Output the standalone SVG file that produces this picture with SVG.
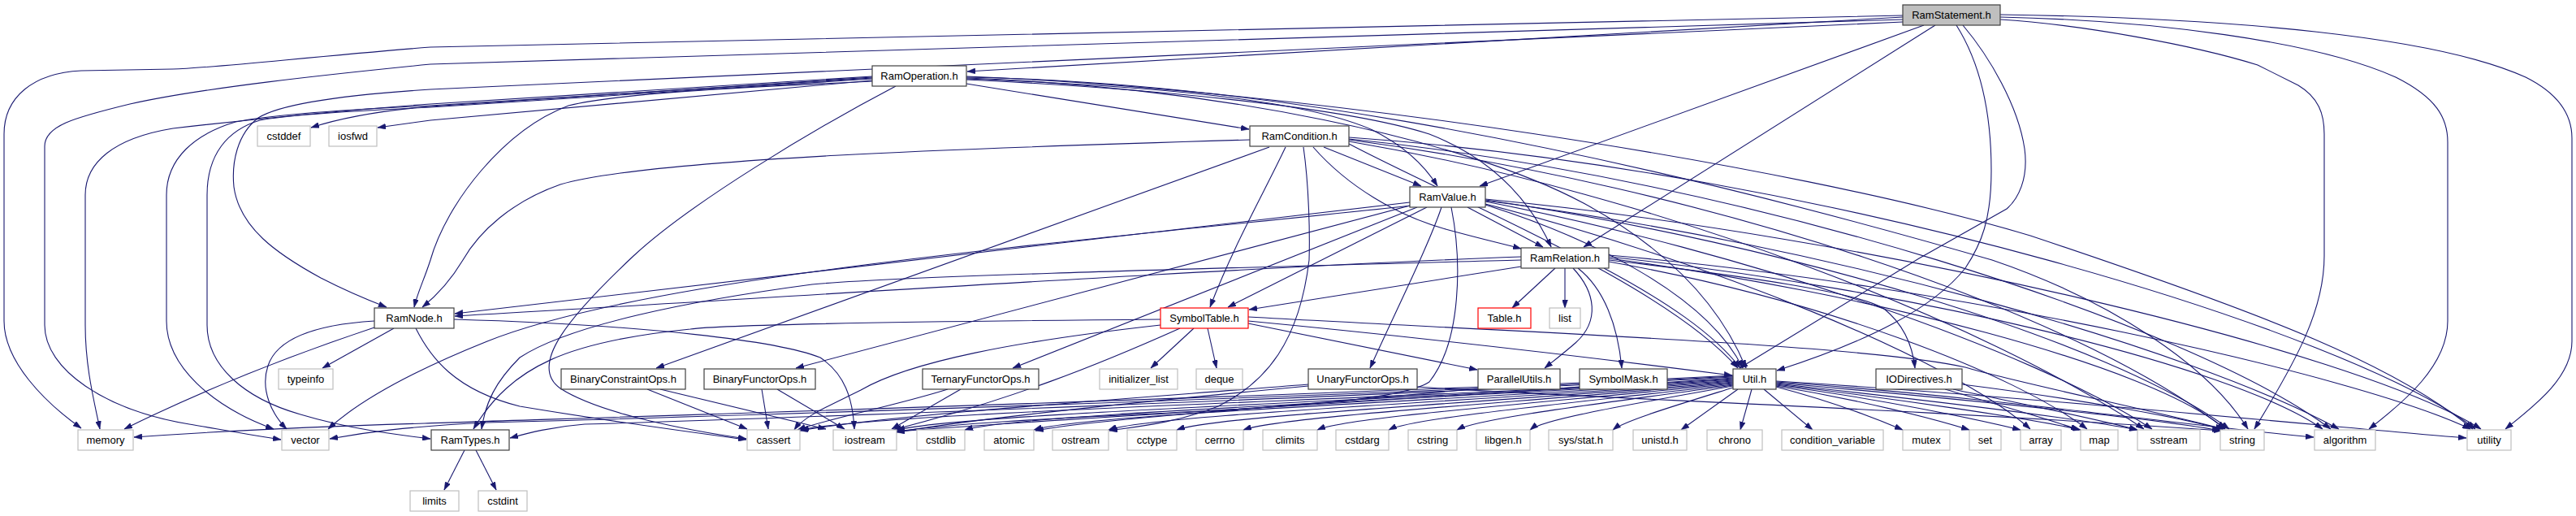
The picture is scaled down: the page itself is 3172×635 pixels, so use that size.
<svg xmlns="http://www.w3.org/2000/svg" width="3172" height="635" viewBox="0 0 3172 635">
<style>
.e{fill:none;stroke:#191970;stroke-width:1.1}
.n rect{fill:#fff;stroke:#404040;stroke-width:1.2}
.x rect{fill:#fff;stroke:#bfbfbf;stroke-width:1.2}
.r rect{fill:#fff;stroke:#ff0000;stroke-width:1.2}
.root rect{fill:#bfbfbf;stroke:#404040;stroke-width:1.2}
text{font-family:"Liberation Sans",Arial,Helvetica,sans-serif;font-size:13px;text-anchor:middle;fill:#000}
</style>
<defs>
<marker id="a" viewBox="0 0 10 7" refX="10" refY="3.5" markerWidth="10" markerHeight="7" markerUnits="userSpaceOnUse" orient="auto">
<path d="M0,0 L10,3.5 L0,7 z" fill="#191970" stroke="#191970" stroke-width="0.5"/>
</marker>
</defs>
<rect width="3172" height="635" fill="#fff"/>
<g id="edges" marker-end="url(#a)">
<!-- RamStatement -->
<path class="e" d="M2343,21 L1191,88"/>
<path class="e" d="M2343,19 L530,58 C380,70 260,84 213,85 L100,87 C40,90 5,120 5,165 L5,395 C5,445 55,495 100,527"/>
<path class="e" d="M2343,24 L530,79 C400,92 250,108 160,128 C90,145 55,155 55,180 L55,400 C55,455 130,505 233,522 C280,530 320,537 346,541"/>
<path class="e" d="M2343,27 L530,110 C420,117 345,128 318,145 C292,165 285,200 288,230 C295,280 340,312 395,342 C430,360 455,370 476,378"/>
<path class="e" d="M2369,31 L1822,229"/>
<path class="e" d="M2383,31 L1950,304"/>
<path class="e" d="M2409,31 C2440,80 2452,140 2452,210 C2452,270 2440,300 2420,330 C2380,380 2300,420 2188,456"/>
<path class="e" d="M2417,31 C2450,70 2485,130 2493,183 C2498,220 2485,245 2471,257 L2363,318 L2142,453"/>
<path class="e" d="M2463,24 C2560,30 2700,55 2780,80 L2830,105 C2855,120 2862,140 2862,165 L2862,315 C2862,380 2830,440 2776,528"/>
<path class="e" d="M2463,21 C2650,25 2850,50 2950,95 C3000,120 3014,145 3014,175 L3014,395 C3014,450 2960,495 2917,528"/>
<path class="e" d="M2463,18 C2750,22 3000,45 3110,95 C3150,115 3167,140 3167,170 L3167,420 C3167,465 3120,500 3085,528"/>
<!-- RamOperation -->
<path class="e" d="M1190,103 L1538,159"/>
<path class="e" d="M1074,95 L530,131 C470,136 420,145 383,157"/>
<path class="e" d="M1074,99 L530,148 L465,157"/>
<path class="e" d="M1074,94 L530,128 C420,136 300,148 213,158 C140,170 105,200 105,240 L105,400 C105,450 115,490 123,528"/>
<path class="e" d="M1074,96 L530,130 C420,135 330,142 290,150 C240,165 205,195 205,240 L205,395 C205,450 260,500 337,528"/>
<path class="e" d="M1074,97 L530,132 C420,137 350,142 320,148 C280,160 255,190 255,240 L255,400 C255,450 300,490 370,510 C430,528 490,535 530,540"/>
<path class="e" d="M1074,100 C900,108 760,115 700,130 C620,160 550,250 530,320 C522,345 514,360 510,378"/>
<path class="e" d="M1103,106 C1000,160 850,250 780,315 C700,390 650,450 690,478 C740,510 850,530 919,540"/>
<path class="e" d="M1190,97 C1400,105 1600,120 1690,160 C1730,180 1755,205 1770,229"/>
<path class="e" d="M1190,98 C1400,108 1650,130 1760,165 C1850,200 1890,260 1910,304"/>
<path class="e" d="M1190,96 C1500,108 1800,170 1950,250 C2060,310 2120,380 2150,453"/>
<path class="e" d="M1190,95 C1500,100 1900,160 2453,320 C2600,370 2720,450 2768,528"/>
<path class="e" d="M1190,94 C1600,110 2200,200 2500,290 C2800,390 2950,450 3045,528"/>
<!-- RamCondition -->
<path class="e" d="M1539,172 C1200,182 800,195 690,227 C630,248 590,285 570,320 C555,345 540,362 520,378"/>
<path class="e" d="M1563,181 L808,453"/>
<path class="e" d="M1583,181 C1555,240 1520,300 1490,378"/>
<path class="e" d="M1630,181 L1750,229"/>
<path class="e" d="M1617,181 C1660,230 1720,265 1780,282 C1820,293 1850,300 1873,306"/>
<path class="e" d="M1605,181 C1612,230 1613,290 1612,320 C1600,420 1560,470 1500,500 C1450,520 1400,525 1366,530"/>
<path class="e" d="M1661,177 C1800,250 2050,350 2140,453"/>
<path class="e" d="M1661,172 C2100,230 2550,380 2740,528"/>
<path class="e" d="M1661,174 C2050,240 2450,400 2640,528"/>
<path class="e" d="M1661,171 C2150,220 2700,400 2870,528"/>
<path class="e" d="M1661,169 C2250,210 2900,410 3048,528"/>
<!-- RamValue -->
<path class="e" d="M1736,249 L560,386"/>
<path class="e" d="M1738,253 C1300,300 800,340 600,420 C500,460 440,495 404,528"/>
<path class="e" d="M1740,252 L980,453"/>
<path class="e" d="M1745,255 L1247,453"/>
<path class="e" d="M1775,255 C1760,300 1720,380 1687,453"/>
<path class="e" d="M1757,255 L1512,378"/>
<path class="e" d="M1807,255 L1900,304"/>
<path class="e" d="M1787,255 C1800,320 1800,420 1760,470 C1700,510 1300,505 1104,531"/>
<path class="e" d="M1829,252 C1950,290 2100,360 2146,453"/>
<path class="e" d="M1829,246 C2200,300 2600,420 2745,528"/>
<path class="e" d="M1829,248 C2150,310 2500,430 2650,528"/>
<path class="e" d="M1829,251 C2100,320 2400,440 2500,528"/>
<path class="e" d="M1829,247 C2250,300 2700,430 2880,528"/>
<path class="e" d="M1829,245 C2300,290 2900,430 3055,528"/>
<!-- RamRelation -->
<path class="e" d="M1915,330 L1862,379"/>
<path class="e" d="M1927,330 L1927,379"/>
<path class="e" d="M1937,330 C1965,360 1970,395 1940,422 C1925,435 1912,445 1902,453"/>
<path class="e" d="M1943,330 C1975,355 1992,400 1997,453"/>
<path class="e" d="M1981,320 C2150,340 2290,360 2320,380 C2345,400 2355,425 2358,453"/>
<path class="e" d="M1873,316 C1500,330 900,370 560,389"/>
<path class="e" d="M1873,328 L1538,381"/>
<path class="e" d="M1873,320 C1500,330 1100,340 1000,350 C850,370 700,400 640,440 C610,470 598,495 593,528"/>
<path class="e" d="M1975,330 C2050,370 2110,410 2143,453"/>
<path class="e" d="M1981,318 C2300,360 2650,450 2740,528"/>
<path class="e" d="M1981,322 C2250,370 2480,460 2570,528"/>
<path class="e" d="M1981,316 C2350,355 2750,450 2860,528"/>
<path class="e" d="M1981,314 C2400,350 2900,460 3042,528"/>
<!-- RamNode -->
<path class="e" d="M485,404 L397,453"/>
<path class="e" d="M461,403 C350,440 250,480 153,528"/>
<path class="e" d="M461,395 C380,400 340,420 330,450 C320,480 335,510 353,528"/>
<path class="e" d="M512,404 C530,440 560,480 640,500 C760,520 860,533 919,541"/>
<path class="e" d="M559,393 C800,400 960,420 1010,440 C1040,460 1050,490 1052,528"/>
<!-- RamTypes -->
<path class="e" d="M572,554 L547,603"/>
<path class="e" d="M586,554 L611,603"/>
<!-- SymbolTable -->
<path class="e" d="M1537,390 C1900,410 2300,425 2420,452 C2480,470 2650,505 2738,528"/>
<path class="e" d="M1537,395 C1800,420 2000,445 2133,462"/>
<path class="e" d="M1537,398 L1819,455"/>
<path class="e" d="M1470,404 L1417,453"/>
<path class="e" d="M1487,404 L1498,453"/>
<path class="e" d="M1429,393 C1200,395 900,398 850,405 C700,420 630,450 583,528"/>
<path class="e" d="M1429,400 C1250,420 1120,445 1060,480 C1020,500 990,512 978,529"/>
<path class="e" d="M1453,404 C1350,450 1250,490 1100,529"/>
<!-- IODirectives -->
<path class="e" d="M2395,479 C2450,495 2520,515 2560,529"/>
<path class="e" d="M2405,479 C2480,495 2580,515 2632,529"/>
<path class="e" d="M2416,473 C2550,490 2680,512 2738,529"/>
<!-- SymbolMask / ParallelUtils / functor ops -->
<path class="e" d="M1945,476 C1700,495 1300,515 1104,531"/>
<path class="e" d="M1820,478 C1600,500 1350,515 1275,530"/>
<path class="e" d="M1611,473 C1400,490 1100,510 985,530"/>
<path class="e" d="M1611,475 C1400,495 1200,515 1104,532"/>
<path class="e" d="M1745,476 C1950,490 2300,500 2736,530"/>
<path class="e" d="M1167,479 C1100,500 1020,515 982,529"/>
<path class="e" d="M1183,479 L1098,528"/>
<path class="e" d="M938,479 L946,528"/>
<path class="e" d="M957,479 L1040,528"/>
<path class="e" d="M797,479 L920,528"/>
<path class="e" d="M813,479 L1017,528"/>
<!-- Util -->
<path class="e" d="M2134,462 C1700,485 700,515 523,521 C350,526 250,532 165,538"/>
<path class="e" d="M2134,463 C1700,487 800,515 600,520 C500,525 450,532 406,540"/>
<path class="e" d="M2134,464 C1700,488 900,517 720,522 C680,525 650,533 628,539"/>
<path class="e" d="M2134,465 C1800,490 1100,505 986,529"/>
<path class="e" d="M2134,466 C1800,490 1200,507 1104,529"/>
<path class="e" d="M2134,467 C1800,491 1260,508 1188,529"/>
<path class="e" d="M2134,468 C1820,492 1340,509 1273,529"/>
<path class="e" d="M2134,469 C1840,493 1420,510 1365,529"/>
<path class="e" d="M2134,470 C1860,494 1500,511 1449,529"/>
<path class="e" d="M2134,471 C1880,495 1580,512 1531,529"/>
<path class="e" d="M2134,472 C1900,496 1660,513 1622,529"/>
<path class="e" d="M2134,473 C1930,497 1740,514 1710,529"/>
<path class="e" d="M2134,474 C1960,498 1820,515 1794,529"/>
<path class="e" d="M2134,475 C2000,499 1900,516 1884,529"/>
<path class="e" d="M2134,477 C2060,500 2000,518 1986,529"/>
<path class="e" d="M2140,479 L2070,529"/>
<path class="e" d="M2157,479 L2143,529"/>
<path class="e" d="M2172,479 L2232,529"/>
<path class="e" d="M2187,476 C2260,495 2310,515 2343,529"/>
<path class="e" d="M2187,475 C2290,492 2380,515 2425,529"/>
<path class="e" d="M2187,474 C2310,490 2430,515 2488,529"/>
<path class="e" d="M2187,473 C2330,490 2500,515 2562,529"/>
<path class="e" d="M2187,472 C2350,490 2560,515 2632,529"/>
<path class="e" d="M2187,471 C2380,488 2650,514 2734,530"/>
<path class="e" d="M2187,470 C2450,488 2700,525 2849,538"/>
<path class="e" d="M2187,469 C2500,488 2900,528 3037,539"/>
</g>
<g id="n_RamStatement" class="root"><rect x="2343" y="6" width="120" height="25"/><text x="2403" y="23">RamStatement.h</text></g>
<g id="n_RamOperation" class="n"><rect x="1074" y="81" width="116" height="25"/><text x="1132" y="98">RamOperation.h</text></g>
<g id="n_cstddef" class="x"><rect x="317" y="155" width="65" height="25"/><text x="349.5" y="172">cstddef</text></g>
<g id="n_iosfwd" class="x"><rect x="405" y="155" width="59" height="25"/><text x="434.5" y="172">iosfwd</text></g>
<g id="n_RamCondition" class="n"><rect x="1539" y="155" width="122" height="25"/><text x="1600" y="172">RamCondition.h</text></g>
<g id="n_RamValue" class="n"><rect x="1736" y="230" width="93" height="25"/><text x="1782.5" y="247">RamValue.h</text></g>
<g id="n_RamRelation" class="n"><rect x="1873" y="305" width="108" height="25"/><text x="1927" y="322">RamRelation.h</text></g>
<g id="n_RamNode" class="n"><rect x="461" y="379" width="98" height="25"/><text x="510" y="396">RamNode.h</text></g>
<g id="n_SymbolTable" class="r"><rect x="1429" y="379" width="108" height="25"/><text x="1483" y="396">SymbolTable.h</text></g>
<g id="n_Table" class="r"><rect x="1820" y="379" width="65" height="25"/><text x="1852.5" y="396">Table.h</text></g>
<g id="n_list" class="x"><rect x="1908" y="379" width="38" height="25"/><text x="1927" y="396">list</text></g>
<g id="n_typeinfo" class="x"><rect x="343" y="454" width="67" height="25"/><text x="376.5" y="471">typeinfo</text></g>
<g id="n_BinaryConstraintOps" class="n"><rect x="691" y="454" width="153" height="25"/><text x="767.5" y="471">BinaryConstraintOps.h</text></g>
<g id="n_BinaryFunctorOps" class="n"><rect x="867" y="454" width="137" height="25"/><text x="935.5" y="471">BinaryFunctorOps.h</text></g>
<g id="n_TernaryFunctorOps" class="n"><rect x="1136" y="454" width="143" height="25"/><text x="1207.5" y="471">TernaryFunctorOps.h</text></g>
<g id="n_initializer_list" class="x"><rect x="1354" y="454" width="96" height="25"/><text x="1402" y="471">initializer_list</text></g>
<g id="n_deque" class="x"><rect x="1473" y="454" width="57" height="25"/><text x="1501.5" y="471">deque</text></g>
<g id="n_UnaryFunctorOps" class="n"><rect x="1611" y="454" width="134" height="25"/><text x="1678" y="471">UnaryFunctorOps.h</text></g>
<g id="n_ParallelUtils" class="n"><rect x="1820" y="454" width="101" height="25"/><text x="1870.5" y="471">ParallelUtils.h</text></g>
<g id="n_SymbolMask" class="n"><rect x="1945" y="454" width="108" height="25"/><text x="1999" y="471">SymbolMask.h</text></g>
<g id="n_Util" class="n"><rect x="2134" y="454" width="53" height="25"/><text x="2160.5" y="471">Util.h</text></g>
<g id="n_IODirectives" class="n"><rect x="2310" y="454" width="106" height="25"/><text x="2363" y="471">IODirectives.h</text></g>
<g id="n_memory" class="x"><rect x="96" y="529" width="68" height="25"/><text x="130" y="546">memory</text></g>
<g id="n_vector" class="x"><rect x="347" y="529" width="58" height="25"/><text x="376" y="546">vector</text></g>
<g id="n_RamTypes" class="n"><rect x="531" y="529" width="96" height="25"/><text x="579" y="546">RamTypes.h</text></g>
<g id="n_cassert" class="x"><rect x="920" y="529" width="65" height="25"/><text x="952.5" y="546">cassert</text></g>
<g id="n_iostream" class="x"><rect x="1026" y="529" width="78" height="25"/><text x="1065" y="546">iostream</text></g>
<g id="n_cstdlib" class="x"><rect x="1129" y="529" width="59" height="25"/><text x="1158.5" y="546">cstdlib</text></g>
<g id="n_atomic" class="x"><rect x="1212" y="529" width="61" height="25"/><text x="1242.5" y="546">atomic</text></g>
<g id="n_ostream" class="x"><rect x="1296" y="529" width="69" height="25"/><text x="1330.5" y="546">ostream</text></g>
<g id="n_cctype" class="x"><rect x="1388" y="529" width="61" height="25"/><text x="1418.5" y="546">cctype</text></g>
<g id="n_cerrno" class="x"><rect x="1473" y="529" width="58" height="25"/><text x="1502" y="546">cerrno</text></g>
<g id="n_climits" class="x"><rect x="1555" y="529" width="67" height="25"/><text x="1588.5" y="546">climits</text></g>
<g id="n_cstdarg" class="x"><rect x="1645" y="529" width="65" height="25"/><text x="1677.5" y="546">cstdarg</text></g>
<g id="n_cstring" class="x"><rect x="1734" y="529" width="60" height="25"/><text x="1764" y="546">cstring</text></g>
<g id="n_libgen" class="x"><rect x="1818" y="529" width="66" height="25"/><text x="1851" y="546">libgen.h</text></g>
<g id="n_sysstat" class="x"><rect x="1907" y="529" width="79" height="25"/><text x="1946.5" y="546">sys/stat.h</text></g>
<g id="n_unistd" class="x"><rect x="2011" y="529" width="66" height="25"/><text x="2044" y="546">unistd.h</text></g>
<g id="n_chrono" class="x"><rect x="2102" y="529" width="68" height="25"/><text x="2136" y="546">chrono</text></g>
<g id="n_condition_variable" class="x"><rect x="2194" y="529" width="125" height="25"/><text x="2256.5" y="546">condition_variable</text></g>
<g id="n_mutex" class="x"><rect x="2343" y="529" width="58" height="25"/><text x="2372" y="546">mutex</text></g>
<g id="n_set" class="x"><rect x="2425" y="529" width="39" height="25"/><text x="2444.5" y="546">set</text></g>
<g id="n_array" class="x"><rect x="2488" y="529" width="50" height="25"/><text x="2513" y="546">array</text></g>
<g id="n_map" class="x"><rect x="2562" y="529" width="46" height="25"/><text x="2585" y="546">map</text></g>
<g id="n_sstream" class="x"><rect x="2632" y="529" width="77" height="25"/><text x="2670.5" y="546">sstream</text></g>
<g id="n_string" class="x"><rect x="2734" y="529" width="54" height="25"/><text x="2761" y="546">string</text></g>
<g id="n_algorithm" class="x"><rect x="2850" y="529" width="75" height="25"/><text x="2887.5" y="546">algorithm</text></g>
<g id="n_utility" class="x"><rect x="3038" y="529" width="54" height="25"/><text x="3065" y="546">utility</text></g>
<g id="n_limits" class="x"><rect x="505" y="604" width="60" height="25"/><text x="535" y="621">limits</text></g>
<g id="n_cstdint" class="x"><rect x="589" y="604" width="60" height="25"/><text x="619" y="621">cstdint</text></g>
</svg>
